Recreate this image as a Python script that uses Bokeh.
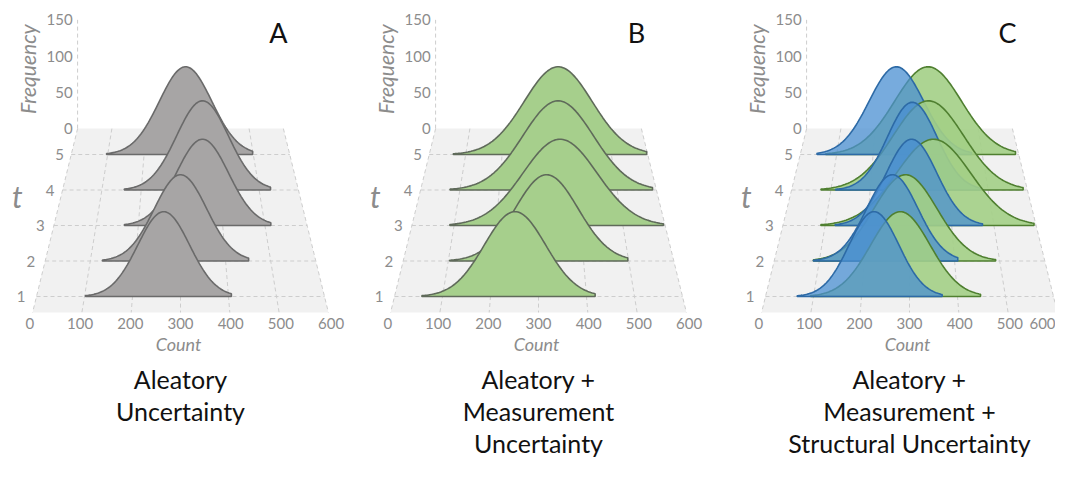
import numpy as np
from bokeh.plotting import figure
from bokeh.models import Range1d
from bokeh.core.properties import value
from bokeh.embed import file_html
from bokeh.resources import INLINE

# ---------------- data ----------------
t_values = [1, 2, 3, 4, 5]
count_ticks = [0, 100, 200, 300, 400, 500, 600]
freq_ticks = [0, 50, 100, 150]
panel_letters = ["A", "B", "C"]
panel_titles = [
    ["Aleatory", "Uncertainty"],
    ["Aleatory +", "Measurement", "Uncertainty"],
    ["Aleatory +", "Measurement +", "Structural Uncertainty"],
]

# Panel A (grey) per t = 1..5
a_mean = [265, 300, 352, 356, 314]
a_sd = [54, 58, 62, 66, 72]
a_lo = [102, 127, 167, 157, 97]
a_hi = [406, 451, 514, 529, 498]
a_peak = [117, 119, 119, 123, 121]

# Panel B (green)
b_mean = [251, 318, 351, 350, 354]
b_sd = [64, 70, 88, 90, 93]
b_lo = [57, 103, 90, 75, 66]
b_hi = [418, 498, 596, 590, 597]
b_peak = [117, 119, 119, 123, 121]

# Panel C green
cg_mean = [281, 291, 357, 348, 351]
cg_sd = [62, 70, 88, 90, 92]
cg_lo = [94, 87, 90, 75, 70]
cg_hi = [448, 491, 595, 589, 591]
cg_peak = [117, 119, 119, 123, 121]

# Panel C blue
cb_mean = [226, 262, 305, 307, 264]
cb_sd = [52, 57, 60, 63, 75]
cb_lo = [66, 87, 124, 112, 46]
cb_hi = [368, 407, 473, 481, 470]
cb_peak = [117, 119, 119, 121, 121]

# ---------------- geometry (pseudo-3D projection) ----------------
PANEL_CX = [180, 538, 909]
T_BACK, T_FRONT = 5.73, 0.55
Y_T1, ROW_PX = 296.0, 35.5
S_BACK, S_FRONT = 0.343, 0.493
F_PX = 0.725


def proj(cx, c, t, f=0.0):
    c = np.asarray(c, dtype=float)
    s = S_BACK + (T_BACK - t) / (T_BACK - T_FRONT) * (S_FRONT - S_BACK)
    x = cx + (c - 300.0) * s
    y = Y_T1 - (t - 1.0) * ROW_PX - np.asarray(f, dtype=float) * F_PX
    return x, y


W, H = 1055, 462
p = figure(width=W, height=H, x_range=Range1d(0, W), y_range=Range1d(H, 0),
           output_backend="svg", toolbar_location=None, min_border=0,
           x_axis_type=None, y_axis_type=None)
p.grid.visible = False
p.outline_line_color = None
p.background_fill_color = "white"
p.border_fill_color = "white"

GRID_C = "#cdcdcd"
LABEL_C = "#8c8c8c"
FONT = value("Lato")


def curve(cx, t, mean, sd, lo, hi, peak):
    c = np.linspace(lo, hi, 120)
    f = peak * np.exp(-0.5 * ((c - mean) / sd) ** 2)
    c = np.concatenate([[lo], c, [hi]])
    f = np.concatenate([[0], f, [0]])
    return proj(cx, c, t, f)


for k, cx in enumerate(PANEL_CX):
    # floor
    fx, fy = [], []
    for c, t in [(0, T_BACK), (600, T_BACK), (600, T_FRONT), (0, T_FRONT)]:
        x, y = proj(cx, c, t)
        fx.append(float(x)); fy.append(float(y))
    p.patch(fx, fy, fill_color="#f1f1f1", line_color=None)
    # floor grid: lines of constant count
    for c in count_ticks:
        x0, y0 = proj(cx, c, T_BACK)
        x1, y1 = proj(cx, c, T_FRONT)
        p.line([float(x0), float(x1)], [y0, y1], line_color=GRID_C, line_dash="4 3", line_width=1)
    # row lines
    for t in t_values:
        x0, y0 = proj(cx, 0, t)
        x1, y1 = proj(cx, 600, t)
        p.line([float(x0), float(x1)], [y0, y1], line_color=GRID_C, line_dash="4 3", line_width=1)
    # frequency axis
    xa, ya0 = proj(cx, 0, T_BACK, 0)
    _, ya1 = proj(cx, 0, T_BACK, freq_ticks[-1])
    p.line([float(xa), float(xa)], [ya0, ya1], line_color=GRID_C, line_dash="4 3", line_width=1)
    fyv = [float(proj(cx, 0, T_BACK, f)[1]) for f in freq_ticks]
    p.text(x=[float(xa) - 5] * len(freq_ticks), y=fyv, text=[str(f) for f in freq_ticks],
           text_align="right", text_baseline="middle", text_font=FONT,
           text_font_size="15px", text_color=LABEL_C)
    p.text(x=[float(xa) - 50], y=[float(proj(cx, 0, T_BACK, 82)[1])], text=["Frequency"],
           angle=np.pi / 2, text_align="center", text_baseline="middle", text_font=FONT,
           text_font_style="italic", text_font_size="21px", text_color=LABEL_C)
    # t labels
    tx, ty = [], []
    for t in t_values:
        x, y = proj(cx, -32, t)
        tx.append(float(x)); ty.append(float(y))
    p.text(x=tx, y=ty, text=[str(t) for t in t_values], text_align="center",
           text_baseline="middle", text_font=FONT, text_font_size="15px", text_color=LABEL_C)
    xt, yt = proj(cx, -32, 3.0)
    p.text(x=[float(xt) - 23], y=[float(yt) - 30], text=["t"], text_align="center",
           text_baseline="middle", text_font=FONT, text_font_style="italic",
           text_font_size="30px", text_color=LABEL_C)
    # count tick labels (kept inside the canvas)
    cxs, cys = proj(cx, count_ticks, 0.24)
    cxs = [min(float(v), W - 13) for v in cxs]
    p.text(x=cxs, y=[float(cys)] * len(count_ticks), text=[str(c) for c in count_ticks],
           text_align="center", text_baseline="middle", text_font=FONT,
           text_font_size="15px", text_color=LABEL_C)
    p.text(x=[cx - 2], y=[343], text=["Count"], text_align="center", text_baseline="middle",
           text_font=FONT, text_font_style="italic", text_font_size="18px", text_color=LABEL_C)
    # panel letter
    p.text(x=[cx + 98], y=[32], text=[panel_letters[k]], text_align="center",
           text_baseline="middle", text_font=FONT, text_font_size="27px", text_color="#111111")
    # titles
    lines = panel_titles[k]
    p.text(x=[cx] * len(lines), y=[378 + 32 * i for i in range(len(lines))], text=lines,
           text_align="center", text_baseline="middle", text_font=FONT,
           text_font_size="25px", text_color="#111111")

# curves, back row first
for i in reversed(range(5)):
    t = t_values[i]
    x, y = curve(PANEL_CX[0], t, a_mean[i], a_sd[i], a_lo[i], a_hi[i], a_peak[i])
    p.patch(list(x), list(y), fill_color="#a7a5a5", line_color="#6a6a6a", line_width=1.6)
    x, y = curve(PANEL_CX[1], t, b_mean[i], b_sd[i], b_lo[i], b_hi[i], b_peak[i])
    p.patch(list(x), list(y), fill_color="#a6cf8c", line_color="#5f6a5a", line_width=1.6)
    x, y = curve(PANEL_CX[2], t, cg_mean[i], cg_sd[i], cg_lo[i], cg_hi[i], cg_peak[i])
    p.patch(list(x), list(y), fill_color="#a3cf86", fill_alpha=0.9, line_color="#4f7f30", line_width=1.6)
    x, y = curve(PANEL_CX[2], t, cb_mean[i], cb_sd[i], cb_lo[i], cb_hi[i], cb_peak[i])
    p.patch(list(x), list(y), fill_color="#4a8fd2", fill_alpha=0.75, line_color="#2d6aa6", line_width=1.6)

open("out.html", "w").write(file_html(p, INLINE))
